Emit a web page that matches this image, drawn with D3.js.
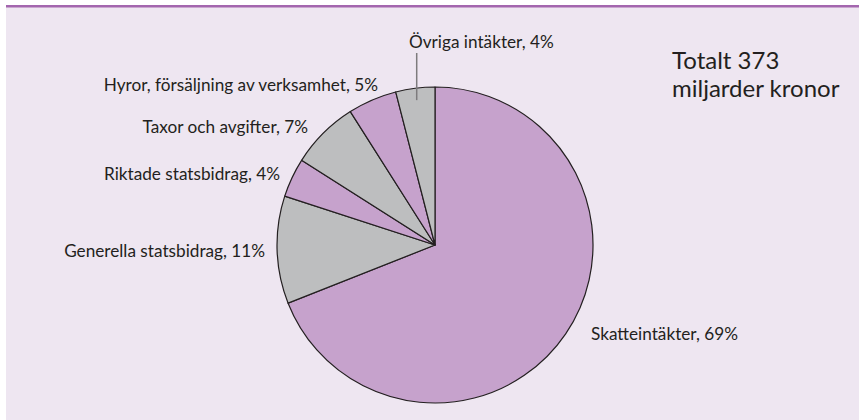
<!DOCTYPE html>
<html>
<head>
<meta charset="utf-8">
<script src="https://cdn.jsdelivr.net/npm/d3@7"></script>
<style>
  body { margin: 0; background: #fff; }
  text { font-family: Lato, "Open Sans", sans-serif; fill: #231f20; }
</style>
</head>
<body>
<div id="viz"></div>
<script>
// Kommunernas intäkter, andel i procent
var categories = ['Skatteintäkter', 'Generella statsbidrag', 'Riktade statsbidrag',
                  'Taxor och avgifter', 'Hyror, försäljning av verksamhet', 'Övriga intäkter'];
var shares = [69, 11, 4, 7, 5, 4];
var totalLines = ['Totalt 373', 'miljarder kronor'];

var width = 859,
    height = 420,
    cx = 435,
    cy = 245,
    radius = 158;

// label placement (x, baseline y, anchor)
var labelLayout = [
  [591, 340, 'start'],
  [265, 257, 'end'],
  [280, 180, 'end'],
  [308, 133, 'end'],
  [378, 91, 'end'],
  [409, 48, 'start']
];

var colors = ['#c6a2cc', '#bdbebf'];

var svg = d3.select('#viz').append('svg')
  .attr('width', width)
  .attr('height', height);

svg.append('rect')
  .attr('x', 6).attr('y', 5)
  .attr('width', width - 6).attr('height', height - 5)
  .attr('fill', '#eee6f1');

svg.append('rect')
  .attr('x', 6).attr('y', 5)
  .attr('width', width - 6).attr('height', 2.5)
  .attr('fill', '#a366ae');

var pie = d3.pie().sort(null).value(function(d) { return d; });
var arc = d3.arc().innerRadius(0).outerRadius(radius);
var arcs = pie(shares);

var g = svg.append('g')
  .attr('transform', 'translate(' + cx + ',' + cy + ')');

g.selectAll('path').data(arcs)
  .enter().append('path')
    .attr('d', arc)
    .attr('fill', function(d, i) { return colors[i % 2]; })
    .attr('stroke', '#231f20')
    .attr('stroke-width', 1.2)
    .attr('stroke-linejoin', 'round');

// leader line for the small top slice
var last = arcs[arcs.length - 1];
var inner = d3.arc().innerRadius(radius - 12).outerRadius(radius - 12).centroid(last);
svg.append('line')
  .attr('x1', cx + inner[0]).attr('y1', cy + inner[1])
  .attr('x2', cx + inner[0]).attr('y2', 53)
  .attr('stroke', '#7d7b7d')
  .attr('stroke-width', 1.5);

svg.selectAll('text.lbl').data(categories)
  .enter().append('text')
    .attr('class', 'lbl')
    .attr('x', function(d, i) { return labelLayout[i][0]; })
    .attr('y', function(d, i) { return labelLayout[i][1]; })
    .attr('text-anchor', function(d, i) { return labelLayout[i][2]; })
    .style('font-size', '17.2px')
    .text(function(d, i) { return d + ', ' + shares[i] + '%'; });

svg.selectAll('text.tot').data(totalLines)
  .enter().append('text')
    .attr('class', 'tot')
    .attr('x', 672)
    .attr('y', function(d, i) { return 69 + i * 28; })
    .style('font-size', '24px')
    .text(function(d) { return d; });
</script>
</body>
</html>
